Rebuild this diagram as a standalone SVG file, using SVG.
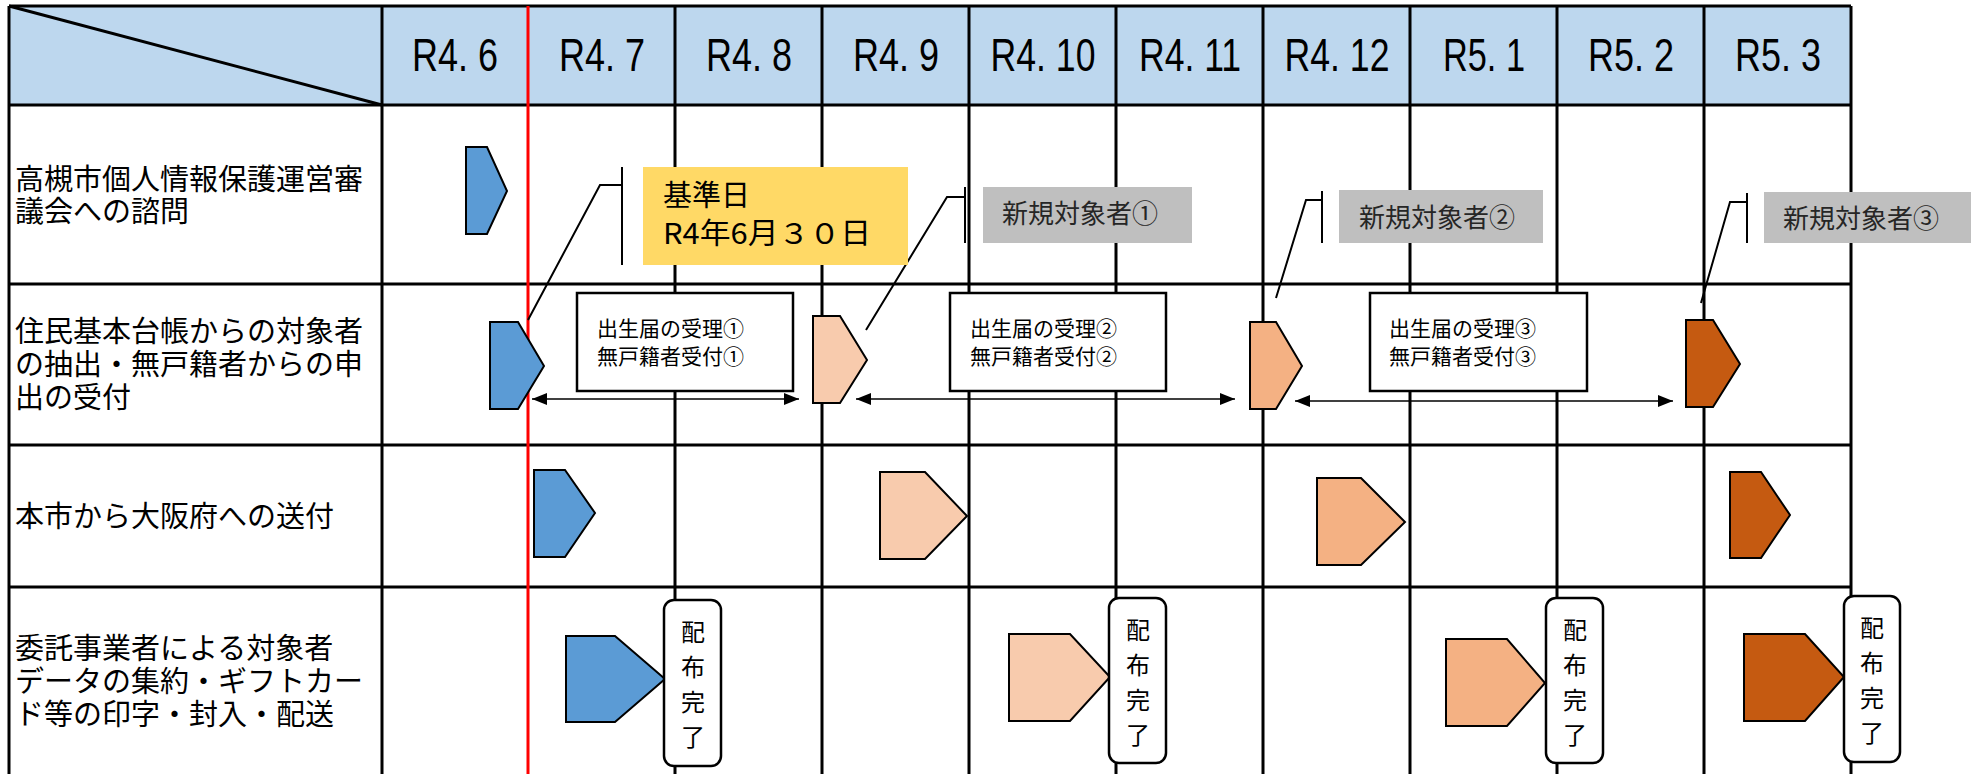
<svg xmlns="http://www.w3.org/2000/svg" width="1978" height="774" viewBox="0 0 1978 774">
<style>
.grid{stroke:#000;stroke-width:3;fill:none}
.hdr{font-family:"Liberation Sans","DejaVu Sans",sans-serif;font-size:46px;fill:#000;text-anchor:middle}
.lbl{font-family:"Noto Sans CJK JP","Noto Sans",sans-serif;font-size:29px;fill:#000}
.pent{stroke:#000;stroke-width:2;stroke-linejoin:miter}
.blue{fill:#5B9BD5}.peach{fill:#F8CBAD}.orange{fill:#F4B183}.dark{fill:#C55A11}
.box{fill:#fff;stroke:#000;stroke-width:2.5}
.btxt{font-family:"Noto Sans CJK JP","Noto Sans",sans-serif;font-size:21px;fill:#000}
.gray{fill:#BFBFBF}
.gtxt{font-family:"Noto Sans CJK JP","Noto Sans",sans-serif;font-size:26px;fill:#262626}
.ytxt{font-family:"Noto Sans CJK JP","Noto Sans",sans-serif;font-size:29px;fill:#000}
.call{stroke:#000;stroke-width:2;fill:none}
.arr{stroke:#000;stroke-width:1.5;fill:none;marker-start:url(#ah);marker-end:url(#ah)}
.done{fill:#fff;stroke:#000;stroke-width:2.5}
.dtxt{font-family:"Noto Sans CJK JP","Noto Sans",sans-serif;font-size:24px;fill:#000;text-anchor:middle}
</style>
<defs>
<marker id="ah" viewBox="0 0 15 12" refX="15" refY="6" markerWidth="15" markerHeight="12" markerUnits="userSpaceOnUse" orient="auto-start-reverse">
<path d="M0,0 L15,6 L0,12 z" fill="#000"/>
</marker>
</defs>
<rect x="0" y="0" width="1978" height="774" fill="#fff"/>
<g id="table">
<rect x="9" y="6" width="1842" height="99" fill="#BDD7EE"/>
<line class="grid" x1="9" y1="6" x2="382" y2="105"/>
<path class="grid" d="M9,6 H1851 M9,105 H1851 M9,284 H1851 M9,445 H1851 M9,587 H1851 M9,6 V774 M1851,6 V774 M382,6 V774 M675,6 V774 M822,6 V774 M969,6 V774 M1116,6 V774 M1263,6 V774 M1410,6 V774 M1557,6 V774 M1704,6 V774"/>
<line x1="528" y1="6" x2="528" y2="774" stroke="#FF0000" stroke-width="3"/>
</g>
<g id="header">
<text class="hdr" x="455" y="71" textLength="86" lengthAdjust="spacingAndGlyphs">R4. 6</text>
<text class="hdr" x="602" y="71" textLength="86" lengthAdjust="spacingAndGlyphs">R4. 7</text>
<text class="hdr" x="749" y="71" textLength="86" lengthAdjust="spacingAndGlyphs">R4. 8</text>
<text class="hdr" x="896" y="71" textLength="86" lengthAdjust="spacingAndGlyphs">R4. 9</text>
<text class="hdr" x="1043" y="71" textLength="105" lengthAdjust="spacingAndGlyphs">R4. 10</text>
<text class="hdr" x="1190" y="71" textLength="102" lengthAdjust="spacingAndGlyphs">R4. 11</text>
<text class="hdr" x="1337" y="71" textLength="105" lengthAdjust="spacingAndGlyphs">R4. 12</text>
<text class="hdr" x="1484" y="71" textLength="82" lengthAdjust="spacingAndGlyphs">R5. 1</text>
<text class="hdr" x="1631" y="71" textLength="86" lengthAdjust="spacingAndGlyphs">R5. 2</text>
<text class="hdr" x="1778" y="71" textLength="86" lengthAdjust="spacingAndGlyphs">R5. 3</text>
</g>
<g id="row-labels">
<text class="lbl"><tspan x="15" y="190">高槻市個人情報保護運営審</tspan><tspan x="15" y="222">議会への諮問</tspan></text>
<text class="lbl"><tspan x="15" y="342">住民基本台帳からの対象者</tspan><tspan x="15" y="375">の抽出・無戸籍者からの申</tspan><tspan x="15" y="408">出の受付</tspan></text>
<text class="lbl" x="15" y="527">本市から大阪府への送付</text>
<text class="lbl"><tspan x="15" y="659">委託事業者による対象者</tspan><tspan x="15" y="692">データの集約・ギフトカー</tspan><tspan x="15" y="725">ド等の印字・封入・配送</tspan></text>
</g>
<g id="connectors">
<polyline class="call" points="528,320 600,185 622,185"/>
<line class="call" x1="622" y1="167" x2="622" y2="265"/>
<polyline class="call" points="866,330 947,197 965,197"/>
<line class="call" x1="965" y1="187" x2="965" y2="243"/>
<polyline class="call" points="1276,298 1306,200 1322,200"/>
<line class="call" x1="1322" y1="191" x2="1322" y2="243"/>
<polyline class="call" points="1701,303 1730,202 1747,202"/>
<line class="call" x1="1747" y1="193" x2="1747" y2="243"/>
<line class="arr" x1="532" y1="399" x2="799" y2="399"/>
<line class="arr" x1="856" y1="399" x2="1235" y2="399"/>
<line class="arr" x1="1295" y1="401" x2="1673" y2="401"/>
</g>
<g id="step-r1-blue"><polygon class="pent blue" points="466,147 487,147 507,191 487,234 466,234"/></g>
<g id="step-r2-blue"><polygon class="pent blue" points="490,322 518,322 544,366 518,409 490,409"/></g>
<g id="step-r2-peach"><polygon class="pent peach" points="813,316 840,316 867,360 840,403 813,403"/></g>
<g id="step-r2-orange"><polygon class="pent orange" points="1250,322 1276,322 1302,366 1276,409 1250,409"/></g>
<g id="step-r2-dark"><polygon class="pent dark" points="1686,320 1713,320 1740,364 1713,407 1686,407"/></g>
<g id="step-r3-blue"><polygon class="pent blue" points="534,470 565,470 595,513 565,557 534,557"/></g>
<g id="step-r3-peach"><polygon class="pent peach" points="880,472 925,472 967,516 925,559 880,559"/></g>
<g id="step-r3-orange"><polygon class="pent orange" points="1317,478 1361,478 1405,522 1361,565 1317,565"/></g>
<g id="step-r3-dark"><polygon class="pent dark" points="1730,472 1761,472 1790,515 1761,558 1730,558"/></g>
<g id="step-r4-blue"><polygon class="pent blue" points="566,636 615,636 665,679 615,722 566,722"/></g>
<g id="step-r4-peach"><polygon class="pent peach" points="1009,634 1070,634 1110,677 1070,721 1009,721"/></g>
<g id="step-r4-orange"><polygon class="pent orange" points="1446,639 1507,639 1545,683 1507,726 1446,726"/></g>
<g id="step-r4-dark"><polygon class="pent dark" points="1744,634 1805,634 1844,677 1805,721 1744,721"/></g>
<g id="kijunbi">
<rect x="643" y="167" width="265" height="98" fill="#FFD966"/>
<text class="ytxt" x="663" y="206">基準日</text>
<text class="ytxt" x="663" y="244" textLength="208" lengthAdjust="spacingAndGlyphs">R4年6月３０日</text>
</g>
<g id="new1"><rect class="gray" x="983" y="187" width="209" height="56"/><text class="gtxt" x="1002" y="223">新規対象者①</text></g>
<g id="new2"><rect class="gray" x="1339" y="190" width="204" height="53"/><text class="gtxt" x="1359" y="227">新規対象者②</text></g>
<g id="new3"><rect class="gray" x="1764" y="192" width="207" height="51"/><text class="gtxt" x="1783" y="228">新規対象者③</text></g>
<g id="recv1"><rect class="box" x="577" y="293" width="216" height="98"/><text class="btxt"><tspan x="597" y="336">出生届の受理①</tspan><tspan x="597" y="364">無戸籍者受付①</tspan></text></g>
<g id="recv2"><rect class="box" x="950" y="293" width="216" height="98"/><text class="btxt"><tspan x="970" y="336">出生届の受理②</tspan><tspan x="970" y="364">無戸籍者受付②</tspan></text></g>
<g id="recv3"><rect class="box" x="1370" y="293" width="217" height="98"/><text class="btxt"><tspan x="1389" y="336">出生届の受理③</tspan><tspan x="1389" y="364">無戸籍者受付③</tspan></text></g>
<g id="done1"><rect class="done" x="664" y="600" width="57" height="166" rx="10"/><text class="dtxt"><tspan x="693" y="641">配</tspan><tspan x="693" y="676">布</tspan><tspan x="693" y="711">完</tspan><tspan x="693" y="746">了</tspan></text></g>
<g id="done2"><rect class="done" x="1109" y="598" width="57" height="165" rx="10"/><text class="dtxt"><tspan x="1138" y="639">配</tspan><tspan x="1138" y="674">布</tspan><tspan x="1138" y="709">完</tspan><tspan x="1138" y="744">了</tspan></text></g>
<g id="done3"><rect class="done" x="1546" y="598" width="57" height="165" rx="10"/><text class="dtxt"><tspan x="1575" y="639">配</tspan><tspan x="1575" y="674">布</tspan><tspan x="1575" y="709">完</tspan><tspan x="1575" y="744">了</tspan></text></g>
<g id="done4"><rect class="done" x="1844" y="596" width="56" height="166" rx="10"/><text class="dtxt"><tspan x="1872" y="637">配</tspan><tspan x="1872" y="672">布</tspan><tspan x="1872" y="707">完</tspan><tspan x="1872" y="742">了</tspan></text></g>
</svg>
